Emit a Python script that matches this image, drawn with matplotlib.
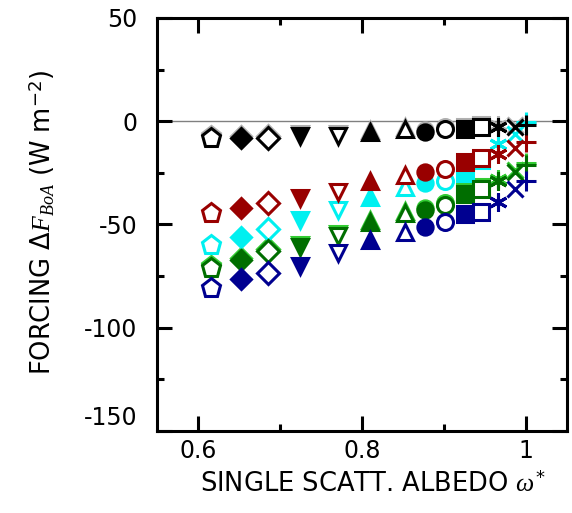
import matplotlib
matplotlib.use("Agg")
import matplotlib.pyplot as plt
from matplotlib.ticker import MultipleLocator, FixedLocator, FixedFormatter
from matplotlib.transforms import offset_copy, ScaledTranslation

plt.rcParams['font.family'] = ['DejaVu Sans']
plt.rcParams['axes.unicode_minus'] = False
plt.rcParams['mathtext.fontset'] = 'custom'
plt.rcParams['mathtext.rm'] = 'DejaVu Sans'
plt.rcParams['mathtext.it'] = 'Liberation Serif:italic'

# single scattering albedo of each case (one marker shape per case)
albedo = [0.616, 0.652, 0.686, 0.725, 0.771, 0.810, 0.853, 0.877, 0.901,
          0.926, 0.946, 0.966, 0.987, 1.0]

# forcing at bottom of atmosphere, W m-2
black = [-8, -8, -8, -7, -7, -5, -4, -5, -4, -4, -3, -3, -3, -2]
red = [-44.5, -42, -39.5, -37, -34.5, -29, -26, -24.5, -23, -20, -18, -16, -13, -10]
cyan = [-60, -56, -52, -48, -43, -36.5, -32, -30, -29, -25, -19, -11, -6, -0.5]
green = [-71, -67, -63, -61, -55.5, -49, -44.5, -43, -40.5, -35.5, -33, -29, -24.5, -21]
navy = [-81, -76.5, -73.5, -70, -64, -57.5, -53.5, -51, -49, -45, -44, -39, -33, -29]

xticks = [0.6, 0.8, 1.0]
xticklabels = ['0.6', '0.8', '1']
yticks = [-150, -100, -50, 0, 50]

markers = ['p', 'D', 'D', 'v', 'v', '^', '^', 'o', 'o', 's', 's', (6, 2, 0), 'x', '+']
filled = [False, True, False, True, False, True, False, True, False, True, False, True, True, True]
msizes = [14, 10.5, 11.5, 11, 11.5, 11, 11.5, 11, 11.5, 11, 11, 13, 12, 14]

# (values, color, halo color) in drawing order
series = [
    (cyan, '#00f0f0', None),
    (green, '#006e00', '#33cc33'),
    (navy, '#000090', None),
    (red, '#990000', None),
    (black, '#000000', '#b0b0b0'),
]

fig = plt.figure(figsize=(5.72, 5.13), dpi=100)
ax = fig.add_axes([0.2745, 0.160, 0.716, 0.805])

ax.axhline(0, color='#808080', lw=1.0, zorder=1)

halo_trans = offset_copy(ax.transData, fig=fig, x=0, y=2, units='dots')

for vals, col, halo in series:
    for i in range(len(albedo)):
        if halo is not None:
            ax.plot(albedo[i], vals[i], marker=markers[i], ms=msizes[i],
                    mfc=halo if filled[i] else 'none', mec=halo, mew=2.2,
                    ls='none', transform=halo_trans, zorder=2)
        ax.plot(albedo[i], vals[i], marker=markers[i], ms=msizes[i],
                mfc=col if filled[i] else 'white', mec=col, mew=2.2,
                ls='none', zorder=3)

ax.set_xlim(0.55, 1.05)
ax.set_ylim(-150, 50)
ax.xaxis.set_major_locator(FixedLocator(xticks))
ax.xaxis.set_major_formatter(FixedFormatter(xticklabels))
ax.xaxis.set_minor_locator(MultipleLocator(0.1))
ax.yaxis.set_major_locator(FixedLocator(yticks))
ax.yaxis.set_minor_locator(MultipleLocator(25))

ax.tick_params(which='both', direction='in', top=True, right=True, width=2.2)
ax.tick_params(which='major', length=11, labelsize=17)
ax.tick_params(which='minor', length=5)
ax.tick_params(axis='x', which='major', pad=6)
ax.tick_params(axis='y', which='major', pad=14)
for sp in ax.spines.values():
    sp.set_linewidth(2.2)

ax.set_xlabel(r'SINGLE SCATT. ALBEDO $\mathit{\omega}^{*}$', fontsize=18.5)
ax.set_ylabel(r'FORCING $\mathit{\Delta F}_{\mathit{BoA}}$ (W m$^{-2}$)', fontsize=18.5)
ax.xaxis.set_label_coords(0.526, -0.099)
ax.yaxis.set_label_coords(-0.245, 0.505)

# lowest y label sits a bit above the axis corner, as in the original
fig.canvas.draw()
lab = ax.yaxis.get_major_ticks()[0].label1
lab.set_transform(lab.get_transform() + ScaledTranslation(0, 0.15, fig.dpi_scale_trans))

fig.savefig('out.png', dpi=100)
